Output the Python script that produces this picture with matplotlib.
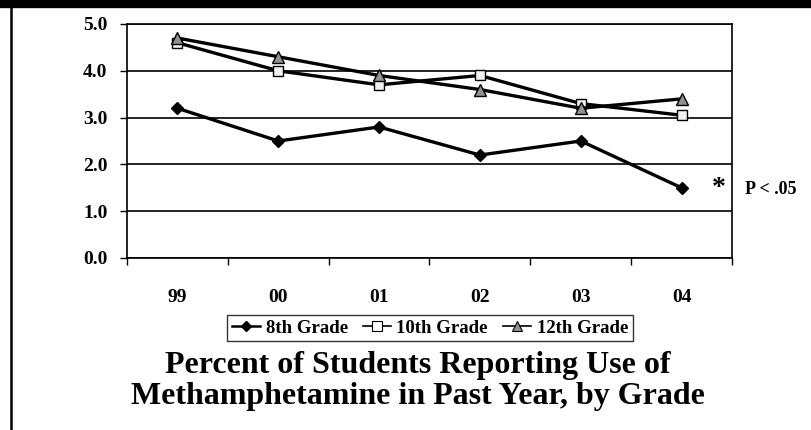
import matplotlib.pyplot as plt
from matplotlib.lines import Line2D

# data
years = ["99", "00", "01", "02", "03", "04"]
grade8 = [3.2, 2.5, 2.8, 2.2, 2.5, 1.5]
grade10 = [4.6, 4.0, 3.7, 3.9, 3.3, 3.05]
grade12 = [4.7, 4.3, 3.9, 3.6, 3.2, 3.4]
yticks = [0.0, 1.0, 2.0, 3.0, 4.0, 5.0]

plt.rcParams["font.family"] = ["Liberation Serif", "DejaVu Serif"]
plt.rcParams["font.weight"] = "bold"

fig = plt.figure(figsize=(8.12, 4.30), dpi=100)
ax = fig.add_axes([127 / 812, 1 - 258 / 430, (732 - 127) / 812, (258 - 24) / 430])

x = list(range(len(years)))
ax.plot(x, grade8, color="black", lw=2.4, marker="D", ms=6.5, mfc="black", mec="black",
        label="8th Grade", zorder=4)
ax.plot(x, grade10, color="black", lw=2.4, marker="s", ms=7.5, mfc="#f0f0f0", mec="black",
        mew=1.0, label="10th Grade", zorder=3)
ax.plot(x, grade12, color="black", lw=2.4, marker="^", ms=8.5, mfc="#909090", mec="black",
        mew=1.0, label="12th Grade", zorder=3)

ax.set_xlim(-0.5, len(years) - 0.5)
ax.set_ylim(0, 5)
ax.set_yticks(yticks)
ax.set_yticklabels([f"{v:.1f}" for v in yticks], fontsize=14, fontweight="bold")
ax.set_xticks(x)
ax.set_xticklabels(years, fontsize=14, fontweight="bold")
ax.tick_params(axis="x", length=0, pad=22)
ax.set_xticks([i - 0.5 for i in range(len(years) + 1)], minor=True)
ax.tick_params(axis="x", which="minor", length=5, direction="out", width=1)
ax.tick_params(axis="y", length=5, direction="out", width=1, pad=9)
ax.yaxis.grid(True, color="black", lw=1.2)
ax.set_axisbelow(True)
for s in ax.spines.values():
    s.set_linewidth(1.2)

# significance marker next to the last 8th-grade point
ax.text(len(years) - 1 + 0.37, grade8[-1] - 0.02, "*", fontsize=20, fontweight="bold",
        ha="center", va="center")
fig.text(771 / 812, 1 - 190 / 430, "P < .05", fontsize=13, fontweight="bold",
         ha="center", va="center")

handles = [
    Line2D([], [], color="black", lw=1.8, marker="D", ms=5, mfc="black"),
    Line2D([], [], color="black", lw=1.2, marker="s", ms=7, mfc="white", mew=0.8),
    Line2D([], [], color="black", lw=1.2, marker="^", ms=7, mfc="#909090", mew=0.8),
]
leg = fig.legend(handles, ["8th Grade", "10th Grade", "12th Grade"], ncol=3,
                 loc="center", bbox_to_anchor=(430 / 812, 1 - 328 / 430),
                 prop={"size": 13.5, "weight": "bold"}, frameon=True, fancybox=False,
                 edgecolor="black", handlelength=1.5, handletextpad=0.3,
                 columnspacing=0.8, borderpad=0.25, borderaxespad=0)
leg.get_frame().set_linewidth(1.0)

fig.text(418 / 812, 1 - 381 / 430,
         "Percent of Students Reporting Use of\nMethamphetamine in Past Year, by Grade",
         fontsize=23, fontweight="bold", ha="center", va="center", linespacing=1.06)

# page border pieces
fig.add_artist(Line2D([0, 1], [1 - 4 / 430, 1 - 4 / 430], color="black", lw=6,
                      transform=fig.transFigure))
fig.add_artist(Line2D([11.5 / 812, 11.5 / 812], [0, 1], color="black", lw=1.8,
                      transform=fig.transFigure))

fig.savefig("out.png", dpi=100)
